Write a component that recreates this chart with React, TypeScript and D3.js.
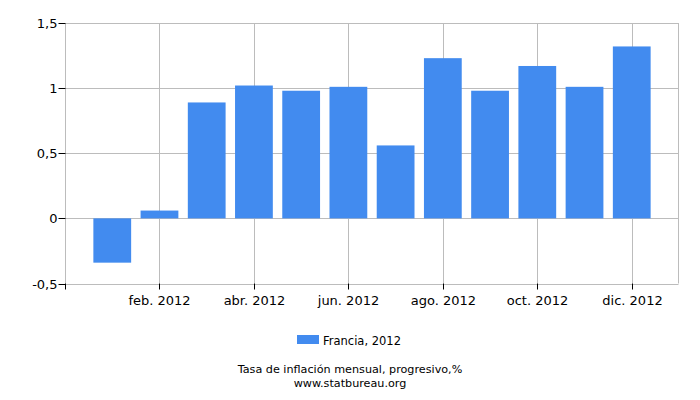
import React, { useRef, useEffect } from 'react';
import * as d3 from 'd3';

const months = ['ene. 2012', 'feb. 2012', 'mar. 2012', 'abr. 2012', 'may. 2012', 'jun. 2012',
  'jul. 2012', 'ago. 2012', 'sep. 2012', 'oct. 2012', 'nov. 2012', 'dic. 2012'];
const values = [-0.34, 0.06, 0.89, 1.02, 0.98, 1.01, 0.56, 1.23, 0.98, 1.17, 1.01, 1.32];
const yTicks = [-0.5, 0, 0.5, 1, 1.5];
const seriesName = 'Francia, 2012';
const title = 'Tasa de inflación mensual, progresivo,%';
const source = 'www.statbureau.org';

const App: React.FC = () => {
  const chartRef = useRef<SVGSVGElement | null>(null);

  useEffect(() => {
    if (!chartRef.current) return;
    document.body.style.margin = '0';

    const svg = d3.select(chartRef.current);
    svg.selectAll('*').remove();

    const width = 700;
    const height = 400;
    const left = 65.5, right = 678.5, top = 23, bottom = 283.5;
    const font = 'DejaVu Sans, sans-serif';

    svg.attr('width', width).attr('height', height).style('display', 'block');

    const x = d3.scaleBand<string>()
      .domain(months)
      .range([left, right])
      .paddingInner(0.2)
      .paddingOuter(0.59);

    const y = d3.scaleLinear().domain([-0.5, 1.5]).range([bottom, top]);

    const center = (m: string) => Math.round((x(m) || 0) + x.bandwidth() / 2) + 0.5;
    const labelled = months.filter((_, i) => i % 2 === 1);

    // Grid
    const grid = svg.append('g').attr('stroke', '#bcbcbc').attr('stroke-width', 1);
    yTicks.forEach(t => {
      const yy = Math.round(y(t)) + 0.5;
      grid.append('line').attr('x1', left).attr('x2', right).attr('y1', yy).attr('y2', yy);
    });
    labelled.forEach(m => {
      grid.append('line').attr('x1', center(m)).attr('x2', center(m)).attr('y1', top).attr('y2', bottom);
    });
    grid.append('line').attr('x1', left).attr('x2', left).attr('y1', top).attr('y2', bottom);
    grid.append('line').attr('x1', right).attr('x2', right).attr('y1', top).attr('y2', bottom);

    // Bars
    svg.append('g')
      .selectAll('rect')
      .data(values)
      .join('rect')
      .attr('x', (_, i) => x(months[i]) || 0)
      .attr('width', x.bandwidth())
      .attr('y', d => y(Math.max(0, d)))
      .attr('height', d => Math.abs(y(d) - y(0)))
      .attr('fill', '#428bef');

    // Y axis ticks and labels
    const yAxis = svg.append('g');
    yTicks.forEach(t => {
      const yy = Math.round(y(t)) + 0.5;
      yAxis.append('line').attr('x1', left - 7).attr('x2', left).attr('y1', yy).attr('y2', yy)
        .attr('stroke', '#000');
      yAxis.append('text')
        .attr('x', left - 8).attr('y', yy + 4.5)
        .attr('text-anchor', 'end')
        .attr('font-family', font).attr('font-size', 13)
        .attr('fill', '#000')
        .text(String(t).replace('.', ','));
    });

    // X axis ticks and labels
    const xAxis = svg.append('g');
    [left, ...labelled.map(center)].forEach(cx => {
      xAxis.append('line').attr('x1', cx).attr('x2', cx).attr('y1', bottom).attr('y2', bottom + 6)
        .attr('stroke', '#000');
    });
    labelled.forEach(m => {
      xAxis.append('text')
        .attr('x', center(m)).attr('y', 305)
        .attr('text-anchor', 'middle')
        .attr('font-family', font).attr('font-size', 13)
        .attr('fill', '#000')
        .text(m);
    });

    // Legend
    svg.append('rect').attr('x', 297).attr('y', 335).attr('width', 22).attr('height', 9).attr('fill', '#428bef');
    svg.append('text').attr('x', 323).attr('y', 345)
      .attr('font-family', font).attr('font-size', 11.5).attr('fill', '#000').text(seriesName);

    // Title and source
    svg.append('text').attr('x', 350).attr('y', 372.5).attr('text-anchor', 'middle')
      .attr('font-family', font).attr('font-size', 11.2).attr('fill', '#000').text(title);
    svg.append('text').attr('x', 350).attr('y', 386.5).attr('text-anchor', 'middle')
      .attr('font-family', font).attr('font-size', 11.2).attr('fill', '#000').text(source);
  }, []);

  return <svg ref={chartRef} />;
};

export default App;
